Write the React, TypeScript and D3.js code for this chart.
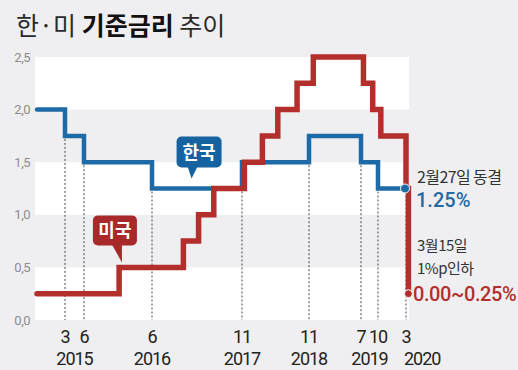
import React from 'react';
import * as d3 from 'd3';

const parse = d3.timeParse('%Y-%m-%d');

// 한국 기준금리 (변경일, 금리)
const koreaDates = ['2014-10-15', '2015-03-12', '2015-06-11', '2016-06-09', '2017-11-30', '2018-11-30', '2019-07-18', '2019-10-16', '2020-02-27'];
const koreaRates = [2.0, 1.75, 1.5, 1.25, 1.5, 1.75, 1.5, 1.25, 1.25];

// 미국 기준금리 (상단 기준)
const usDates = ['2014-10-15', '2015-12-16', '2016-12-14', '2017-03-15', '2017-06-14', '2017-12-13', '2018-03-21', '2018-06-13', '2018-09-26', '2018-12-19', '2019-07-31', '2019-09-18', '2019-10-30', '2020-03-03', '2020-03-15'];
const usRates = [0.25, 0.5, 0.75, 1.0, 1.25, 1.5, 1.75, 2.0, 2.25, 2.5, 2.25, 2.0, 1.75, 1.25, 0.25];

// x축 눈금 (한국 금리 변경 시점 + 2020년 3월)
const tickDates = ['2015-03-12', '2015-06-11', '2016-06-09', '2017-11-30', '2018-11-30', '2019-07-18', '2019-10-16', '2020-03-03'];
const yTicks = [0, 0.5, 1.0, 1.5, 2.0, 2.5];
const bands = [[0, 0.5], [1.0, 1.5], [2.0, 2.5]];

const korea = koreaDates.map((d, i) => ({ date: parse(d)!, value: koreaRates[i] }));
const us = usDates.map((d, i) => ({ date: parse(d)!, value: usRates[i] }));

const BLUE = '#1d6aa7';
const RED = '#b22f2c';
const NUM_FONT = 'Roboto, sans-serif';
const KR_FONT = '"Noto Sans CJK KR", sans-serif';

const App = () => {
  const width = 518;
  const height = 370;

  // the picture spaces its ticks unevenly, so the time scale is pinned at each tick
  const x = d3
    .scaleTime()
    .domain([parse('2014-10-15')!, ...tickDates.map((d) => parse(d)!)])
    .range([37, 65, 84, 152, 242, 309, 361, 378, 406]);
  const y = d3.scaleLinear().domain([0, 2.5]).range([320, 57]);
  const plotLeft = 35;
  const plotRight = 409;

  const line = d3
    .line<{ date: Date; value: number }>()
    .x((d) => x(d.date))
    .y((d) => y(d.value))
    .curve(d3.curveStepAfter);

  const rateAt = (t: Date) => {
    let v = korea[0].value;
    korea.forEach((d) => {
      if (d.date <= t) v = d.value;
    });
    return v;
  };

  const ticks = tickDates.map((s) => {
    const date = parse(s)!;
    const before = rateAt(new Date(date.getTime() - 86400000));
    const after = rateAt(date);
    return { date, month: date.getMonth() + 1, year: date.getFullYear(), top: Math.min(before, after) };
  });

  const years = d3.groups(ticks, (d) => d.year).map(([year, items], i, arr) => ({
    year,
    x: d3.mean(items, (d) => x(d.date))!,
    last: i === arr.length - 1,
  }));

  const kEnd = korea[korea.length - 1];
  const uEnd = us[us.length - 1];

  // 말풍선 꼬리 끝 위치
  const kTip = { x: x(parse('2017-02-01')!), y: y(1.25) - 10 };
  const uTip = { x: x(parse('2015-12-31')!), y: y(0.5) - 5 };

  return (
    <svg width={width} height={height} style={{ position: 'absolute', left: 0, top: 0 }}>
      <rect width={width} height={height} fill="#efeff1" />

      <text x={16} y={35} fontFamily={KR_FONT} fontSize={25} fill="#2a2a2a">
        <tspan>한·미 </tspan>
        <tspan fontWeight={700} fill="#111">기준금리</tspan>
        <tspan> 추이</tspan>
      </text>

      {bands.map(([a, b]) => (
        <rect key={a} x={plotLeft} width={plotRight - plotLeft} y={y(b)} height={y(a) - y(b)} fill="#fff" />
      ))}

      {yTicks.map((t) => (
        <text key={t} x={30} y={y(t) + 4.5} textAnchor="end" fontFamily={NUM_FONT} fontSize={13} fill="#8c8c8c" letterSpacing={-0.5}>
          {t.toFixed(1).replace('.', ',')}
        </text>
      ))}

      {ticks.map((t) => (
        <line key={+t.date} x1={x(t.date)} x2={x(t.date)} y1={y(t.top) + 3} y2={y(0)} stroke="#444" strokeWidth={1} strokeDasharray="2,2" />
      ))}

      {ticks.map((t) => (
        <text key={'m' + +t.date} x={x(t.date)} y={343} textAnchor="middle" fontFamily={NUM_FONT} fontSize={18} fill="#222" letterSpacing={-1}>
          {t.month}
        </text>
      ))}
      {years.map((yr) => (
        <text
          key={yr.year}
          x={yr.last ? yr.x - 2 : yr.x}
          y={365}
          textAnchor={yr.last ? 'start' : 'middle'}
          fontFamily={NUM_FONT}
          fontSize={18}
          fill="#222"
          letterSpacing={-1}
        >
          {yr.year}
        </text>
      ))}

      <path d={line(korea)!} fill="none" stroke={BLUE} strokeWidth={4.5} strokeLinecap="round" />
      <path d={line(us)!} fill="none" stroke={RED} strokeWidth={5.5} strokeLinecap="round" />

      <circle cx={x(kEnd.date)} cy={y(kEnd.value)} r={4.5} fill={BLUE} stroke="#fff" strokeWidth={1} />
      <circle cx={x(uEnd.date)} cy={y(uEnd.value)} r={4} fill={RED} stroke="#fff" strokeWidth={1} />

      {/* 한국 말풍선 */}
      <g>
        <rect x={kTip.x - 15} y={kTip.y - 42} width={45} height={31} rx={5} fill="#1463a0" />
        <path d={`M${kTip.x - 4},${kTip.y - 12} L${kTip.x + 6},${kTip.y - 12} L${kTip.x},${kTip.y} Z`} fill="#1463a0" />
        <text x={kTip.x + 7.5} y={kTip.y - 20} textAnchor="middle" fontFamily={KR_FONT} fontWeight={700} fontSize={18} fill="#fff">
          한국
        </text>
      </g>

      {/* 미국 말풍선 */}
      <g>
        <rect x={uTip.x - 29} y={uTip.y - 47} width={44} height={30} rx={5} fill="#a8292a" />
        <path d={`M${uTip.x - 10},${uTip.y - 18} L${uTip.x},${uTip.y - 18} L${uTip.x},${uTip.y} Z`} fill="#a8292a" />
        <text x={uTip.x - 7} y={uTip.y - 25.5} textAnchor="middle" fontFamily={KR_FONT} fontWeight={700} fontSize={18} fill="#fff">
          미국
        </text>
      </g>

      <text x={417} y={y(kEnd.value) - 6} fontFamily={KR_FONT} fontSize={16} fill="#333" letterSpacing={-0.6}>
        2월27일 동결
      </text>
      <text x={416} y={y(kEnd.value) + 18} fontFamily={NUM_FONT} fontSize={20} fontWeight={500} fill={BLUE}>
        1.25%
      </text>

      <text x={417} y={251} fontFamily={KR_FONT} fontSize={15} fill="#333" letterSpacing={-0.5}>
        3월15일
      </text>
      <text x={417} y={274} fontFamily={KR_FONT} fontSize={15} fill="#333" letterSpacing={-0.5}>
        1%p인하
      </text>
      <text x={413} y={y(uEnd.value) + 7.5} fontFamily={NUM_FONT} fontSize={20} fontWeight={500} fill={RED} letterSpacing={-0.4}>
        0.00~0.25%
      </text>
    </svg>
  );
};

export default App;
